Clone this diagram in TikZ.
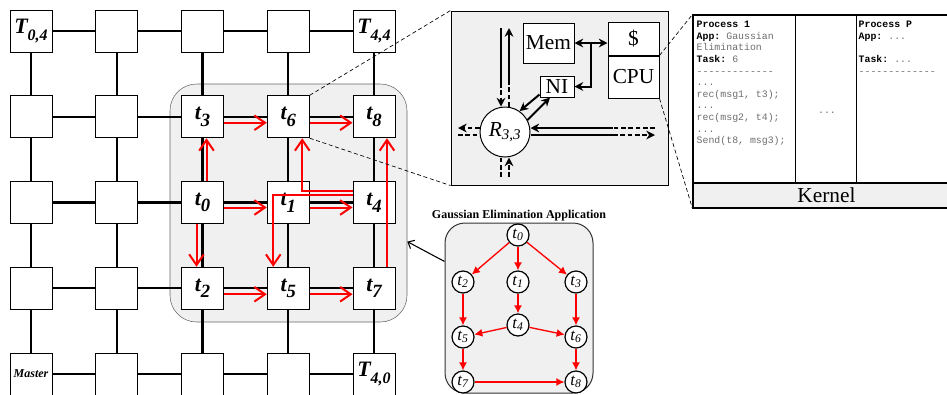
\documentclass[tikz,border=0pt]{standalone}
\usepackage{fontspec}
\setmainfont{Liberation Serif}
\setmonofont{Liberation Mono}
\usepackage{xcolor}
\usepackage{tikz}
\usetikzlibrary{arrows.meta,positioning,calc}
\definecolor{panelgray}{RGB}{240,240,240}
\definecolor{codegray}{RGB}{110,110,110}
\newcommand{\gsub}[2][14]{\raisebox{-0.3em}{\fontsize{#1}{#1}\selectfont #2}}

\begin{document}
\begin{tikzpicture}[
  x=0.75pt, y=-0.75pt,
  tile/.style={draw, fill=white, line width=0.75pt, minimum size=31.5pt, inner sep=0pt},
  tlabel/.style={inner sep=0pt, font=\fontsize{16.5}{16.5}\selectfont\bfseries\itshape},
  link/.style={line width=1.6pt},
  hop/.style={draw=red, line width=1.5pt, -{Straight Barb[length=8pt,width=11pt]}},
  zoomline/.style={line width=0.5pt, dash pattern=on 3pt off 2pt},
  unit/.style={draw, fill=white, line width=0.75pt, inner sep=0pt, font=\fontsize{16}{16}\selectfont},
  bus/.style={line width=1.5pt},
  dsh/.style={dash pattern=on 3.5pt off 2pt},
  tip/.style={-{Stealth[length=6.5pt,width=6.5pt]}},
  code/.style={inner sep=0pt, align=left, font=\fontsize{7.4}{8.7}\selectfont\ttfamily},
  task/.style={draw, circle, fill=white, line width=0.9pt, minimum size=16.5pt, inner sep=0pt, font=\fontsize{12.5}{12.5}\selectfont\itshape},
  dep/.style={draw=red, line width=1pt, -{Latex[length=6pt,width=6pt]}}
]
\useasboundingbox (0,0) rectangle (947,394);
\clip (0,0) rectangle (947,394);

% mesh of tiles
\node[draw=black!60, fill=panelgray, rounded corners=20pt, minimum width=177.75pt, minimum height=178.5pt] (zone) at (288.5,203) {};
\foreach \i in {0,...,4}
  \foreach \j in {0,...,4}
    \node[tile] (g\i\j) at ({31+85.75*\i},{374-85.75*\j}) {};
\foreach \i in {0,...,3}
  \foreach \j in {0,...,4} {
    \pgfmathtruncatemacro\k{\i+1}
    \draw[link] (g\i\j) -- (g\k\j);
    \draw[link] (g\j\i) -- (g\j\k);
  }
\foreach \i/\j/\txt in {0/4/{T\gsub[12]{0,4}}, 4/4/{T\gsub[12]{4,4}}, 4/0/{T\gsub[12]{4,0}},
    2/3/{t\gsub{3}}, 3/3/{t\gsub{6}}, 4/3/{t\gsub{8}},
    2/2/{t\gsub{0}}, 3/2/{t\gsub{1}}, 4/2/{t\gsub{4}},
    2/1/{t\gsub{2}}, 3/1/{t\gsub{5}}, 4/1/{t\gsub{7}}}
  \node[tlabel] (l\i\j) at (g\i\j) {\txt};
\node[tlabel, font=\fontsize{9}{9}\selectfont\bfseries\itshape] (l00) at (g00) {Master};

% messages on the mesh
\draw[hop] ($(g22.north)+(4,0)$) -- ($(g23.south)+(4,0)$);
\draw[hop] ($(g23.east)+(0,6)$) -- ($(g33.west)+(0,6)$);
\draw[hop] ($(g33.east)+(0,6)$) -- ($(g43.west)+(0,6)$);
\draw[hop] ($(g22.east)+(0,5)$) -- ($(g32.west)+(0,5)$);
\draw[hop] ($(g32.east)+(0,5)$) -- ($(g42.west)+(0,5)$);
\draw[hop] ($(g22.south)+(-6,0)$) -- ($(g21.north)+(-6,0)$);
\draw[hop] ($(g21.east)+(0,6)$) -- ($(g31.west)+(0,6)$);
\draw[hop] ($(g31.east)+(0,6)$) -- ($(g41.west)+(0,6)$);
\draw[hop] ($(g41.north)+(13,0)$) -- ($(g43.south)+(13,0)$);
\draw[hop] ($(g42.west)+(0,-12)$) -| ($(g33.south)+(14,0)$);
\draw[hop] ($(g42.west)+(0,-8)$) -| ($(g31.north)+(-15,0)$);

% tile detail
\node[draw, fill=panelgray, line width=0.75pt, minimum width=162.75pt, minimum height=130.5pt] (rbox) at (559.5,98) {};
\draw[zoomline] (g33.north east) -- (rbox.north west);
\draw[zoomline] (g33.south east) -- (rbox.south west);
\node[unit, minimum width=38.25pt, minimum height=30pt] (mem) at (548.5,43) {Mem};
\node[unit, minimum width=38.25pt, minimum height=24.75pt] (cache) at (633.5,38.5) {\$};
\node[unit, minimum width=38.25pt, minimum height=31.5pt, below=0pt of cache] (cpu) {CPU};
\node[unit, minimum width=25.5pt, minimum height=15.75pt] (ni) at (557,86.5) {NI};
\node[draw, circle, fill=white, line width=0.75pt, minimum size=37.5pt, inner sep=0pt, font=\fontsize{16}{16}\selectfont] (rtr) at (505,132) {\textit{R}\textsubscript{\textit{3,3}}};
\draw[bus, {Stealth[length=6.5pt,width=6.5pt]}-{Stealth[length=6.5pt,width=6.5pt]}] (mem.east) -- (mem.east -| cache.west);
\coordinate (tap) at ($(mem.east)!0.5!(mem.east -| cache.west)$);
\draw[bus, tip] (tap) |- (ni.east);
\draw[bus, tip] ($(ni.south west)+(0,-3)$) -- (rtr.55);
\draw[bus, tip] (rtr.28) -- ($(ni.south)+(-7,0)$);
% router channels
\coordinate (n-in) at (501,28);
\coordinate (n-in-d) at (501,83);
\coordinate (n-out) at (509,28);
\coordinate (n-out-d) at (509,83);
\draw[bus] (n-in) -- (n-in-d);
\draw[bus, dsh, tip] (n-in-d) -- (n-in-d |- rtr.north);
\draw[bus, dsh] (rtr.north -| n-out-d) -- (n-out-d);
\draw[bus, tip] (n-out-d) -- (n-out);
\coordinate (e-in) at (655,128);
\coordinate (e-in-d) at (613,128);
\coordinate (e-out-d) at (613,135);
\coordinate (e-out) at (655,135);
\draw[bus, dsh] (e-in) -- (e-in-d);
\draw[bus, tip] (e-in-d) -- (e-in-d -| rtr.east);
\draw[bus] (e-out-d -| rtr.east) -- (e-out-d);
\draw[bus, dsh, tip] (e-out-d) -- (e-out);
\coordinate (w-out) at (458,128);
\coordinate (w-in) at (458,135);
\draw[bus, dsh, tip] (w-out -| rtr.west) -- (w-out);
\draw[bus, dsh] (w-in) -- (w-in -| rtr.west);
\coordinate (s-out) at (501,177);
\coordinate (s-in) at (509,177);
\draw[bus, dsh] (s-out |- rtr.south) -- (s-out);
\draw[bus, dsh, tip] (s-in) -- (s-in |- rtr.south);

% processes on the cpu
\node[draw, fill=white, line width=0.8pt, minimum width=200.25pt, minimum height=144.75pt] (proc) at (826.5,111.5) {};
\node[draw, fill=panelgray, line width=0.8pt, minimum width=200.25pt, minimum height=18.75pt, anchor=south west, font=\fontsize{16}{16}\selectfont] (kern) at (proc.south west) {Kernel};
\draw[zoomline] (cpu.north east) -- (proc.north west);
\draw[zoomline] (cpu.south east) -- (proc.south west);
\draw[line width=0.75pt] ($(proc.north west)+(103,0)$) -- ($(kern.north west)+(103,0)$);
\draw[line width=0.75pt] ($(proc.north west)+(164,0)$) -- ($(kern.north west)+(164,0)$);
\node[code, anchor=north west] (p1) at ($(proc.north west)+(4,6.5)$) {\textbf{Process 1}\\
  \textbf{App:} \textcolor{codegray}{Gaussian}\\
  \textcolor{codegray}{Elimination}\\
  \textbf{Task:} \textcolor{codegray}{6}\\
  \textcolor{codegray}{-------------}\\
  \textcolor{codegray}{...}\\
  \textcolor{codegray}{rec(msg1, t3);}\\
  \textcolor{codegray}{...}\\
  \textcolor{codegray}{rec(msg2, t4);}\\
  \textcolor{codegray}{...}\\
  \textcolor{codegray}{Send(t8, msg3);}};
\node[code, text=codegray] (pdots) at (827,113) {...};
\node[code, anchor=north west] (pp) at ($(proc.north west)+(166,6.5)$) {\textbf{Process P}\\
  \textbf{App:} \textcolor{codegray}{...}\\
  \mbox{}\\
  \textbf{Task:} \textcolor{codegray}{...}\\
  \textcolor{codegray}{-------------}};

% task graph
\node[draw=black!80, fill=panelgray, line width=0.75pt, rounded corners=15pt, minimum width=111pt, minimum height=127.5pt] (gebox) at (519,308) {};
\node[inner sep=1pt, above=0pt of gebox, font=\fontsize{9}{9}\selectfont\bfseries] (getitle) {Gaussian Elimination Application};
\draw[line width=0.8pt, -{Straight Barb[length=4pt,width=7pt]}] (gebox.148) -- (zone.-18);
\node[task] (t0) at (518,235) {t\textsubscript{0}};
\node[task] (t2) at (463,282) {t\textsubscript{2}};
\node[task] (t1) at (518,282) {t\textsubscript{1}};
\node[task] (t3) at (576,282) {t\textsubscript{3}};
\node[task] (t4) at (518,325) {t\textsubscript{4}};
\node[task] (t5) at (463,337) {t\textsubscript{5}};
\node[task] (t6) at (576,337) {t\textsubscript{6}};
\node[task] (t7) at (463,382) {t\textsubscript{7}};
\node[task] (t8) at (576,382) {t\textsubscript{8}};
\draw[dep] (t0) -- (t2);
\draw[dep] (t0) -- (t1);
\draw[dep] (t0) -- (t3);
\draw[dep] (t2) -- (t5);
\draw[dep] (t1) -- (t4);
\draw[dep] (t3) -- (t6);
\draw[dep] (t4) -- (t5);
\draw[dep] (t4) -- (t6);
\draw[dep] (t5) -- (t7);
\draw[dep] (t6) -- (t8);
\draw[dep] (t7) -- (t8);
\end{tikzpicture}
\end{document}
